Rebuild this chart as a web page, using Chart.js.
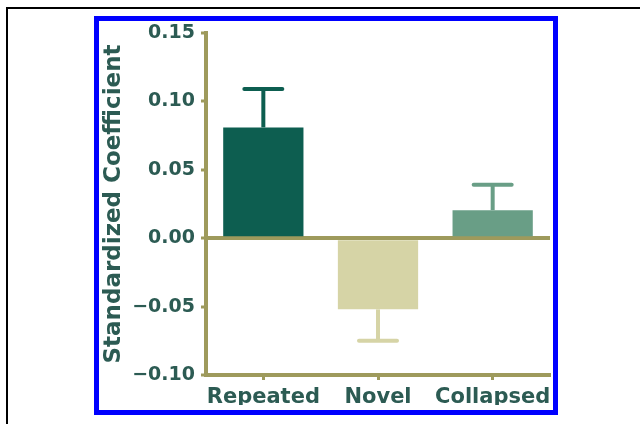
<!DOCTYPE html>
<html>
<head>
<meta charset="utf-8">
<script src="https://cdn.jsdelivr.net/npm/chart.js@4"></script>
<style>
  html, body { margin: 0; padding: 0; background: #fff; }
  #wrap { position: relative; width: 640px; height: 424px; overflow: hidden; }
  #frame { position: absolute; left: 6px; top: 7px; width: 800px; height: 600px;
           border-top: 2px solid #000; border-left: 2px solid #000; }
  #blue { position: absolute; left: 94px; top: 16px; width: 464px; height: 399px;
          box-sizing: border-box; border: 5px solid #0000ff; }
  canvas { position: absolute; left: 0; top: 0; }
</style>
</head>
<body>
<div id="wrap">
  <div id="frame"></div>
  <div id="blue"></div>
  <canvas id="bar-chart" width="640" height="424"></canvas>
</div>
<script>
const categories = ['Repeated', 'Novel', 'Collapsed'];
const coefficients = [0.081, -0.052, 0.0205];
const errors = [0.028, 0.023, 0.0185];
const barColors = ['#0d5e50', '#d6d4a6', '#699e86'];
const yTickValues = [-0.10, -0.05, 0.00, 0.05, 0.10, 0.15];

const axisColor = '#9e9a5c';
const textColor = '#2c5b53';

// one-sided error bars, pointing away from zero
const errorBars = {
    id: 'errorBars',
    beforeDatasetsDraw(chart) {
        const ctx = chart.ctx;
        const y = chart.scales.y;
        const meta = chart.getDatasetMeta(0);
        meta.data.forEach((bar, i) => {
            const v = coefficients[i];
            const end = v + Math.sign(v) * errors[i];
            const y0 = y.getPixelForValue(v);
            const y1 = y.getPixelForValue(end);
            ctx.save();
            ctx.strokeStyle = barColors[i];
            ctx.lineWidth = 4;
            ctx.beginPath();
            ctx.moveTo(bar.x, y0);
            ctx.lineTo(bar.x, y1);
            ctx.stroke();
            ctx.lineCap = 'round';
            ctx.beginPath();
            ctx.moveTo(bar.x - 19, y1);
            ctx.lineTo(bar.x + 19, y1);
            ctx.stroke();
            ctx.restore();
        });
    }
};

new Chart(document.getElementById('bar-chart'), {
    type: 'bar',
    data: {
        labels: categories,
        datasets: [{
            data: coefficients,
            backgroundColor: barColors,
            borderWidth: 0,
            barPercentage: 0.7,
            categoryPercentage: 1
        }]
    },
    options: {
        responsive: false,
        animation: false,
        layout: { padding: { left: 100, top: 33, right: 90, bottom: 19 } },
        plugins: {
            legend: { display: false },
            tooltip: { enabled: false }
        },
        scales: {
            x: {
                afterFit: scale => { scale.height = 30; },
                grid: {
                    offset: false,
                    drawOnChartArea: false,
                    tickLength: 5,
                    tickColor: axisColor,
                    tickWidth: 3
                },
                border: { color: axisColor, width: 4 },
                ticks: {
                    padding: 5,
                    autoSkip: false,
                    maxRotation: 0,
                    minRotation: 0,
                    color: textColor,
                    font: { family: 'DejaVu Sans', size: 21, weight: 'bold' }
                }
            },
            y: {
                min: -0.10,
                max: 0.15,
                afterFit: scale => { scale.width = 106; },
                afterBuildTicks: scale => {
                    scale.ticks = yTickValues.map(v => ({ value: v }));
                },
                grid: {
                    color: ctx => ctx.tick && Math.abs(ctx.tick.value) < 1e-9 ? axisColor : 'rgba(0,0,0,0)',
                    lineWidth: ctx => ctx.tick && Math.abs(ctx.tick.value) < 1e-9 ? 4 : 0,
                    tickLength: 5,
                    tickColor: axisColor,
                    tickWidth: 3
                },
                border: { color: axisColor, width: 4 },
                ticks: {
                    padding: 6,
                    color: textColor,
                    font: { family: 'DejaVu Sans', size: 19, weight: 'bold' },
                    callback: v => (v < 0 ? '\u2212' : '') + Math.abs(v).toFixed(2)
                },
                title: {
                    display: true,
                    text: 'Standardized Coefficient',
                    color: textColor,
                    padding: { top: 0, bottom: 0 },
                    font: { family: 'DejaVu Sans', size: 23, weight: 'bold' }
                }
            }
        }
    },
    plugins: [errorBars]
});
</script>
</body>
</html>
